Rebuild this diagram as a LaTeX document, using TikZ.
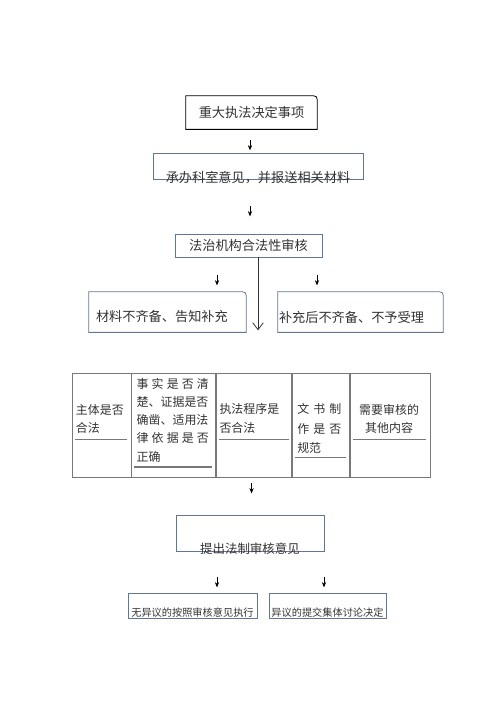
\documentclass[tikz,border=0pt]{standalone}
\usepackage{fontspec}
\newfontfamily\cjkfont{Noto Sans CJK SC}
\usepackage{tikz}
\usetikzlibrary{arrows.meta, positioning, calc}

\definecolor{frameblue}{RGB}{95,118,148}
\definecolor{rulegray}{RGB}{120,120,120}
\definecolor{inkgray}{RGB}{50,50,50}

% box with one rounded corner (top right)
\newcommand{\cornerframe}[2]{%
  \draw[#1, line width=0.45pt] (#2.south west) -- (#2.north west) -- ([xshift=-5pt]#2.north east)
    .. controls (#2.north east) .. ([yshift=-5pt]#2.north east) -- (#2.south east) -- cycle;}

\begin{document}
\begin{tikzpicture}[x=0.02cm, y=-0.02cm,
    every node/.style={inner sep=0pt, text=inkgray, font=\cjkfont\fontsize{7.5}{9}\selectfont},
    bluebox/.style={draw=frameblue, line width=0.45pt},
    cell/.style={draw=rulegray, line width=0.45pt, minimum height=2.08cm},
    celltext/.style={anchor=west, align=left, font=\cjkfont\fontsize{6.8}{10.4}\selectfont},
    smallnote/.style={font=\cjkfont\fontsize{5.8}{7}\selectfont},
    downarrow/.style={draw=black, line width=0.4pt, -{Stealth[length=3pt, width=2.4pt]}},
    underline/.style={draw=rulegray, line width=0.5pt}
  ]
  \useasboundingbox (0,0) rectangle (500,708);

  % top
  \node (matter) at (251.5,112.5) [minimum width=2.62cm, minimum height=0.66cm] {重大执法决定事项};
  \cornerframe{black}{matter}
  \node (office) at (258,166) [bluebox, minimum width=4.2cm, minimum height=0.52cm,
    label={[anchor=center, yshift=1pt]south:承办科室意见，并报送相关材料}] {};
  \node (review) at (248.5,245.5) [bluebox, minimum width=2.94cm, minimum height=0.46cm] {法治机构合法性审核};

  \draw[downarrow] ($(matter.south)+(-1.5,11)$) -- ++(0,10);
  \draw[downarrow] ($(office.south)+(-8,27)$) -- ++(0,10);

  % branch
  \node (lack) at (167.5,312) [minimum width=3.14cm, minimum height=0.8cm,
    label={[anchor=west, xshift=0.14cm, yshift=-0.1cm]west:材料不齐备、告知补充}] {};
  \cornerframe{frameblue}{lack}
  \node (reject) at (360.5,312) [minimum width=3.3cm, minimum height=0.8cm,
    label={[anchor=west, xshift=0.02cm, yshift=-0.1cm]west:补充后不齐备、不予受理}] {};
  \cornerframe{frameblue}{reject}
  \draw[downarrow] ($(review.south)+(-31.5,18)$) -- ++(0,10);
  \draw[downarrow] ($(review.south)+(68.5,18)$) -- ++(0,10);
  \draw[inkgray, line width=0.45pt, -{Straight Barb[length=4pt, width=6pt]}]
    ($(review.south)+(9.5,0)$) -- ++(0,73);

  % table
  \node (subject) at (101.5,425) [cell, minimum width=1.18cm] {};
  \node (facts) [cell, minimum width=1.68cm, right=0pt of subject] {};
  \node (procedure) [cell, minimum width=1.5cm, right=0pt of facts] {};
  \node (document) [cell, minimum width=1.14cm, right=0pt of procedure] {};
  \node (others) [cell, minimum width=1.6cm, right=0pt of document] {};

  \node[celltext] (subjectText) at ($(subject.west)+(4,-6)$) {主体是否\\合法};
  \node[celltext] (factsText) at ($(facts.west)+(5,-5)$)
    {\makebox[1.44cm][s]{事 实 是 否 清}\\楚、证据是否\\确凿、适用法\\\makebox[1.44cm][s]{律 依 据 是 否}\\正确};
  \node[celltext] (procedureText) at ($(procedure.west)+(3,-6.5)$) {执法程序是\\否合法};
  \node[celltext, font=\cjkfont\fontsize{6.8}{11}\selectfont] (documentText) at ($(document.west)+(5,3.5)$)
    {\makebox[0.88cm][s]{文 书 制}\\\makebox[0.88cm][s]{作 是 否}\\规范};
  \node[celltext, align=center, anchor=center] (othersText) at ($(others.center)+(-1,-6)$) {需要审核的\\其他内容};

  \draw[underline] ($(subject.west)+(3,14)$) -- ($(subject.east)+(-4,14)$);
  \draw[underline, line width=1pt] ($(facts.west)+(3,42)$) -- ($(facts.east)+(-4,42)$);
  \draw[underline] ($(procedure.west)+(3,14)$) -- ($(procedure.east)+(-3,14)$);
  \draw[underline] ($(document.west)+(3,32)$) -- ($(document.east)+(-4,32)$);
  \draw[underline] ($(others.west)+(3,14)$) -- ($(others.east)+(-4,14)$);

  % bottom
  \draw[downarrow] ($(procedure.south)+(-2.5,6)$) -- ++(0,10);
  \node (opinion) at (250,533) [bluebox, minimum width=2.96cm, minimum height=0.72cm,
    label={[anchor=center, yshift=0.06cm, font=\cjkfont\fontsize{7.1}{9}\selectfont]south:提出法制审核意见}] {};
  \draw[downarrow] ($(opinion.south)+(-33,26)$) -- ++(0,10);
  \draw[downarrow] ($(opinion.south)+(74,26)$) -- ++(0,10);
  \node (execute) at (192.5,605.5) [bluebox, minimum width=2.58cm, minimum height=0.5cm,
    label={[anchor=center, yshift=0.12cm, smallnote]south:无异议的按照审核意见执行}] {};
  \node (collective) at (327.5,605.5) [bluebox, minimum width=2.34cm, minimum height=0.5cm,
    label={[anchor=center, yshift=0.12cm, smallnote]south:异议的提交集体讨论决定}] {};
\end{tikzpicture}
\end{document}
